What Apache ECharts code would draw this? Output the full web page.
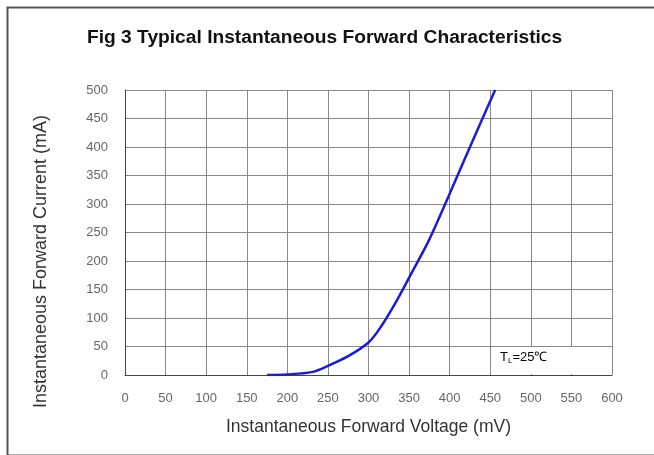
<!DOCTYPE html>
<html><head><meta charset="utf-8">
<script src="https://cdn.jsdelivr.net/npm/echarts@6/dist/echarts.min.js"></script>
<style>html,body{margin:0;padding:0;background:#fff}#c{width:654px;height:455px}</style>
</head><body><div id="c"></div>
<script>
const voltage = [175, 200, 230, 250, 275, 300, 315, 335, 355, 375, 400, 425, 456];
const current = [0, 1, 5, 16, 33, 57, 84, 131, 184, 238, 318, 400, 500];
const titleText = 'Fig 3 Typical Instantaneous Forward Characteristics';
const xName = 'Instantaneous Forward Voltage (mV)';
const yName = 'Instantaneous Forward Current (mA)';

const chart = echarts.init(document.getElementById('c'));
const lab = {color:'#666', fontFamily:'Liberation Sans, Arial', fontSize:13};
chart.setOption({
  animation:false,
  title:{text:titleText,left:82,top:23,textStyle:{fontFamily:'Liberation Sans, Arial',fontWeight:'bold',fontSize:19.2,color:'#111'}},
  grid:{left:125,right:42,top:90,bottom:80},
  xAxis:{type:'value',min:0,max:600,interval:50,
    name:xName,nameLocation:'middle',nameGap:43,
    nameTextStyle:{fontFamily:'Liberation Sans, Arial',fontSize:17.5,color:'#333'},
    axisLine:{show:true,lineStyle:{color:'#444',width:1}},axisTick:{show:false},
    axisLabel:Object.assign({margin:17},lab),
    splitLine:{show:true,lineStyle:{color:'#888',width:1}}},
  yAxis:{type:'value',min:0,max:500,interval:50,
    name:yName,nameLocation:'middle',nameGap:75,
    nameTextStyle:{fontFamily:'Liberation Sans, Arial',fontSize:18,color:'#333',padding:[0,58,0,0]},
    axisLine:{show:true,lineStyle:{color:'#444',width:1}},axisTick:{show:false},
    axisLabel:Object.assign({margin:17},lab),
    splitLine:{show:true,lineStyle:{color:'#888',width:1}}},
  series:[{type:'line',data:voltage.map((v,i)=>[v,current[i]]),smooth:0.3,showSymbol:false,
    lineStyle:{color:'#1c1cd6',width:2.5},z:5}],
  graphic:[
    {type:'rect',left:5,top:5,shape:{width:660,height:448},style:{fill:null,stroke:'#555',lineWidth:2},silent:true,z:0},
    {type:'rect',left:491,top:347,shape:{width:120,height:27},style:{fill:'#fff',stroke:null},z:3},
    {type:'text',left:500,top:351,style:{rich:{a:{fontSize:13,fontFamily:'Liberation Sans, Arial',color:'#222'},b:{fontSize:8,fontFamily:'Liberation Sans, Arial',color:'#222',padding:[7,0,0,0]}},text:'{a|T}{b|L}{a|=25℃}'},z:4}
  ]
});
</script></body></html>
